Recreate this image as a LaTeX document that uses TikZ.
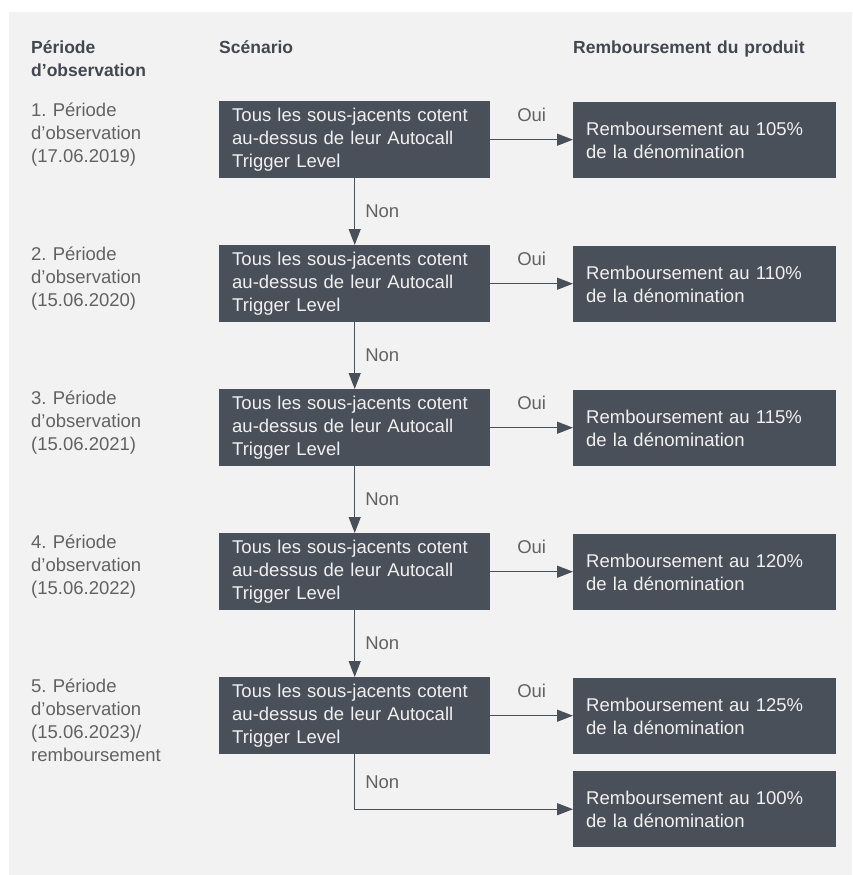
\documentclass[tikz,border=0pt]{standalone}
\usepackage{fontspec}
\setmainfont{Liberation Sans}
\usetikzlibrary{arrows.meta}
\frenchspacing
\definecolor{bgc}{RGB}{242,242,242}
\definecolor{boxc}{RGB}{74,80,90}
\definecolor{txtc}{RGB}{98,98,98}
\definecolor{headc}{RGB}{66,71,80}
\definecolor{boxtxt}{RGB}{240,240,240}
\newcommand{\bodyfnt}{\fontsize{18.5}{23}\selectfont}
\newcommand{\headfnt}{\fontsize{17.5}{23}\selectfont\bfseries}
\begin{document}
\begin{tikzpicture}[x=1pt,y=-1pt,
  scen/.style={fill=boxc, text=boxtxt, anchor=north west, minimum width=271pt,
    minimum height=77pt, text width=245pt, inner xsep=13pt, inner ysep=0pt,
    align=left, font=\bodyfnt},
  res/.style={fill=boxc, text=boxtxt, anchor=north west, minimum width=263pt,
    minimum height=76pt, text width=237pt, inner xsep=13pt, inner ysep=0pt,
    align=left, font=\bodyfnt},
  lab/.style={text=txtc, anchor=base west, text width=180pt, inner sep=0pt,
    align=left, font=\bodyfnt},
  head/.style={text=headc, anchor=base west, text width=280pt, inner sep=0pt,
    align=left, font=\headfnt},
  arr/.style={draw=boxc, line width=1.3pt, -{Triangle[length=16pt,width=12pt]}},
  edgelab/.style={text=txtc, font=\bodyfnt, inner sep=0pt}]
\useasboundingbox (0,0) rectangle (852,875);
\fill[bgc] (9,12) rectangle (852,875);
\fill[black!6] (9,12) rectangle (11,875);

% headers
\node[head] (h1) at (31,53) {Période\\d’observation};
\node[head] (h2) at (219,53) {Scénario};
\node[head] (h3) at (573,53) {Remboursement du produit};

% scenario boxes
\node[scen] (s1) at (219,101) {Tous les sous-jacents cotent\\au-dessus de leur Autocall\\Trigger Level};
\node[scen] (s2) at (219,245) {Tous les sous-jacents cotent\\au-dessus de leur Autocall\\Trigger Level};
\node[scen] (s3) at (219,389) {Tous les sous-jacents cotent\\au-dessus de leur Autocall\\Trigger Level};
\node[scen] (s4) at (219,533) {Tous les sous-jacents cotent\\au-dessus de leur Autocall\\Trigger Level};
\node[scen] (s5) at (219,677) {Tous les sous-jacents cotent\\au-dessus de leur Autocall\\Trigger Level};

% result boxes
\node[res] (r1) at (573,102) {Remboursement au 105\%\\de la dénomination};
\node[res] (r2) at (573,246) {Remboursement au 110\%\\de la dénomination};
\node[res] (r3) at (573,390) {Remboursement au 115\%\\de la dénomination};
\node[res] (r4) at (573,534) {Remboursement au 120\%\\de la dénomination};
\node[res] (r5) at (573,678) {Remboursement au 125\%\\de la dénomination};
\node[res] (r6) at (573,771) {Remboursement au 100\%\\de la dénomination};

% left labels
\node[lab] (l1) at (31,116) {1. Période\\d’observation\\(17.06.2019)};
\node[lab] (l2) at (31,260) {2. Période\\d’observation\\(15.06.2020)};
\node[lab] (l3) at (31,404) {3. Période\\d’observation\\(15.06.2021)};
\node[lab] (l4) at (31,548) {4. Période\\d’observation\\(15.06.2022)};
\node[lab] (l5) at (31,692) {5. Période\\d’observation\\(15.06.2023)/\\remboursement};

% Oui arrows
\foreach \i in {1,...,5}{
  \draw[arr] (s\i.east) -- (s\i.east -| r\i.west)
    node[edgelab, midway, anchor=base, yshift=18pt] {Oui};
}
% Non arrows
\foreach \i/\j in {1/2,2/3,3/4,4/5}{
  \draw[arr] (s\i.south) -- (s\j.north)
    node[edgelab, midway, anchor=west, xshift=10pt] {Non};
}
\draw[arr] (s5.south) |- (r6.west)
  node[edgelab, pos=0.25, anchor=west, xshift=10pt] {Non};
\end{tikzpicture}
\end{document}
